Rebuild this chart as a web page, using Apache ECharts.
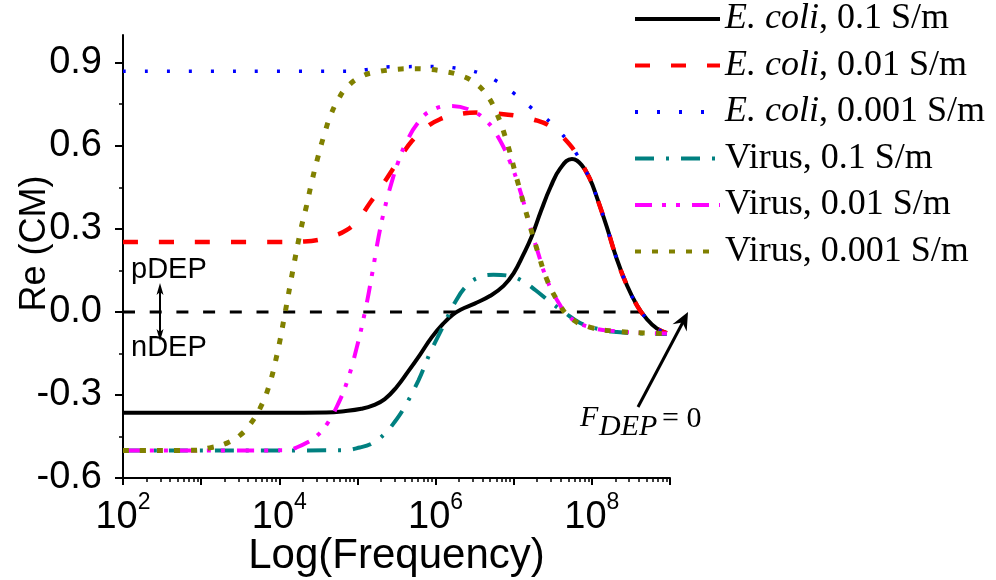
<!DOCTYPE html>
<html><head><meta charset="utf-8">
<script src="https://cdn.jsdelivr.net/npm/echarts@6/dist/echarts.min.js"></script>
<style>html,body{margin:0;padding:0;background:#fff}#c{width:996px;height:580px}</style>
</head><body><div id="c"></div><script>
// x values are log10(frequency / Hz)
const xLabelExponents = [2, 4, 6, 8];
const yTickValues = [-0.6, -0.3, 0.0, 0.3, 0.6, 0.9];
const yMinorTickValues = [-0.45, -0.15, 0.15, 0.45, 0.75];
const seriesNames = ['E. coli, 0.1 S/m', 'E. coli, 0.01 S/m', 'E. coli, 0.001 S/m',
  'Virus, 0.1 S/m', 'Virus, 0.01 S/m', 'Virus, 0.001 S/m'];

const ecoli01 = [[2,-0.364],[4.0,-0.364],[4.6,-0.363],[4.85,-0.358],[5.05,-0.35],[5.2,-0.338],[5.35,-0.315],[5.5,-0.272],[5.65,-0.215],[5.80,-0.155],[5.95,-0.092],[6.10,-0.042],[6.22,-0.01],[6.32,0.008],[6.5,0.03],[6.7,0.058],[6.87,0.094],[7.0,0.14],[7.12,0.205],[7.23,0.272],[7.35,0.365],[7.47,0.45],[7.6,0.52],[7.745,0.552],[7.87,0.53],[7.98,0.477],[8.06,0.417],[8.19,0.308],[8.32,0.19],[8.45,0.095],[8.58,0.022],[8.7,-0.025],[8.83,-0.06],[8.96,-0.077]];
const ecoli001 = [[2,0.252],[4.0,0.252],[4.3,0.254],[4.5,0.26],[4.7,0.275],[4.86,0.295],[5.0,0.33],[5.16,0.393],[5.3,0.45],[5.44,0.51],[5.57,0.568],[5.70,0.618],[5.85,0.66],[6.05,0.695],[6.3,0.714],[6.57,0.72],[6.8,0.716],[7.04,0.708],[7.25,0.695],[7.47,0.67],[7.65,0.625],[7.81,0.568],[7.92,0.51],[8.0,0.465],[8.06,0.417],[8.19,0.308],[8.32,0.19],[8.45,0.095],[8.58,0.022],[8.7,-0.025],[8.83,-0.06],[8.96,-0.077]];
const ecoli0001 = [[2,0.869],[4.9,0.869],[5.14,0.876],[5.42,0.885],[6.0,0.886],[6.27,0.88],[6.55,0.864],[6.78,0.834],[7.0,0.79],[7.23,0.736],[7.47,0.685],[7.66,0.628],[7.81,0.568],[7.92,0.51],[8.0,0.465],[8.06,0.417],[8.19,0.308],[8.32,0.19],[8.45,0.095],[8.58,0.022],[8.7,-0.025],[8.83,-0.06],[8.96,-0.077]];
const virus01 = [[2,-0.501],[4.8,-0.50],[5.03,-0.49],[5.2,-0.473],[5.35,-0.44],[5.47,-0.40],[5.6,-0.345],[5.78,-0.248],[5.93,-0.148],[6.10,-0.05],[6.25,0.035],[6.40,0.095],[6.55,0.124],[6.74,0.134],[6.95,0.13],[7.13,0.108],[7.28,0.078],[7.46,0.037],[7.64,0.0],[7.85,-0.04],[8.1,-0.063],[8.32,-0.073],[8.6,-0.078],[8.96,-0.08]];
const virus001 = [[2,-0.501],[4.1,-0.50],[4.22,-0.49],[4.35,-0.473],[4.48,-0.448],[4.61,-0.405],[4.74,-0.34],[4.87,-0.25],[4.99,-0.13],[5.10,0.005],[5.19,0.14],[5.27,0.27],[5.35,0.375],[5.43,0.46],[5.52,0.54],[5.63,0.615],[5.78,0.685],[5.95,0.728],[6.2,0.744],[6.45,0.728],[6.65,0.69],[6.8,0.632],[6.955,0.54],[7.08,0.44],[7.21,0.31],[7.31,0.215],[7.42,0.12],[7.55,0.045],[7.72,-0.02],[7.98,-0.056],[8.32,-0.07],[8.75,-0.077],[8.96,-0.078]];
const virus0001 = [[2,-0.501],[2.9,-0.50],[3.11,-0.491],[3.33,-0.474],[3.5,-0.445],[3.63,-0.405],[3.75,-0.35],[3.86,-0.275],[3.97,-0.155],[4.07,-0.01],[4.17,0.145],[4.27,0.29],[4.35,0.385],[4.42,0.475],[4.5,0.565],[4.58,0.645],[4.66,0.712],[4.75,0.765],[4.86,0.81],[5.05,0.85],[5.27,0.868],[5.5,0.876],[5.7,0.878],[5.91,0.876],[6.12,0.868],[6.31,0.855],[6.5,0.828],[6.65,0.785],[6.77,0.725],[6.9,0.625],[7.05,0.47],[7.2,0.318],[7.31,0.215],[7.42,0.12],[7.55,0.045],[7.72,-0.02],[7.98,-0.056],[8.32,-0.07],[8.75,-0.077],[8.96,-0.078]];
const zeroLine = [[2,0],[9.35,0]];

const seriesData = [ecoli01, ecoli001, ecoli0001, virus01, virus001, virus0001];
const seriesColors = ['#000000', '#ff0000', '#0000ff', '#008080', '#ff00ff', '#808000'];
const seriesDash = ['solid', [15, 21], [3, 19], [19, 12, 3, 12], [17, 10, 4, 10, 4, 12], [6, 11]];
const seriesWidth = [4, 4.5, 3.5, 4, 4, 5];

// minor tick positions on the log-frequency axis (2..9 x 10^n)
const xMinorTicks = [];
for (let n = 2; n < 9; n++) for (let k = 2; k <= 9; k++) xMinorTicks.push(n + Math.log10(k));

const SANS = 'Liberation Sans, Arial, sans-serif';
const SERIF = 'Liberation Serif, Times New Roman, serif';

const chart = echarts.init(document.getElementById('c'), null, {renderer: 'canvas'});
const series = seriesNames.map((name, i) => ({
  name, type: 'line', data: seriesData[i], showSymbol: false, symbol: 'none',
  smooth: 0.45, xAxisIndex: 0, yAxisIndex: 0,
  lineStyle: {color: seriesColors[i], width: seriesWidth[i], type: seriesDash[i]},
  itemStyle: {color: seriesColors[i]}, silent: true, z: 2 + i
}));
series.push({
  name: 'zero', type: 'line', data: zeroLine, showSymbol: false, symbol: 'none', clip: false,
  lineStyle: {color: '#000', width: 3, type: [12, 14.7]}, silent: true, z: 1
});

chart.setOption({
  animation: false,
  backgroundColor: '#fff',
  grid: {left: 123, right: 326, top: 35, bottom: 102, containLabel: false, outerBoundsMode: 'none'},
  xAxis: [{
    type: 'value', min: 2, max: 9, interval: 1, position: 'bottom',
    axisLine: {show: true, onZero: false, lineStyle: {color: '#000', width: 2}},
    axisTick: {show: true, inside: false, length: 7, lineStyle: {color: '#000', width: 2}},
    splitLine: {show: false},
    axisLabel: {
      margin: 13,
      formatter: v => xLabelExponents.indexOf(v) >= 0 ? '{b|10}{s|' + v + '}' : '',
      rich: {
        b: {fontSize: 38, fontFamily: SANS, color: '#000', lineHeight: 54},
        s: {fontSize: 23, fontFamily: SANS, color: '#000', verticalAlign: 'top', lineHeight: 23}
      }
    },
    name: 'Log(Frequency)', nameLocation: 'middle', nameGap: 57, nameMoveOverlap: false,
    nameTextStyle: {fontSize: 42, fontFamily: SANS, color: '#000'}
  }, {
    type: 'value', min: 2, max: 9, position: 'bottom',
    axisLine: {show: false, onZero: false},
    axisTick: {show: true, inside: false, length: 4, customValues: xMinorTicks, lineStyle: {color: '#000', width: 1.5}},
    axisLabel: {show: false}, splitLine: {show: false}
  }],
  yAxis: [{
    type: 'value', min: -0.6, max: 1.0, interval: 0.3, position: 'left',
    axisLine: {show: true, onZero: false, lineStyle: {color: '#000', width: 2}},
    axisTick: {show: true, inside: false, length: 8, customValues: yTickValues, lineStyle: {color: '#000', width: 2}},
    splitLine: {show: false},
    axisLabel: {customValues: yTickValues, margin: 21, fontSize: 38, fontFamily: SANS, color: '#000',
      formatter: v => v.toFixed(1)},
    name: 'Re (CM)', nameLocation: 'middle', nameGap: 70, nameRotate: 90, nameMoveOverlap: false,
    nameTextStyle: {fontSize: 36, fontFamily: SANS, color: '#000', padding: [0, 0, 0, 26]}
  }, {
    type: 'value', min: -0.6, max: 1.0, position: 'left',
    axisLine: {show: false, onZero: false},
    axisTick: {show: true, inside: false, length: 4, customValues: yMinorTickValues, lineStyle: {color: '#000', width: 1.5}},
    axisLabel: {show: false}, splitLine: {show: false}
  }],
  legend: {
    data: seriesNames, orient: 'vertical', left: 633, top: 1, padding: 0,
    itemWidth: 85, itemHeight: 14, itemGap: 10.5, selectedMode: false,
    itemStyle: {opacity: 0, borderWidth: 0},
    lineStyle: {width: 4},
    formatter: name => name.indexOf('E. coli') === 0 ? '{i|E. coli}{n|' + name.slice(7) + '}' : '{n|' + name + '}',
    textStyle: {
      fontSize: 36, fontFamily: SERIF, color: '#000', lineHeight: 36,
      rich: {
        i: {fontSize: 36, fontFamily: SERIF, fontStyle: 'italic', color: '#000', lineHeight: 36},
        n: {fontSize: 36, fontFamily: SERIF, color: '#000', lineHeight: 36}
      }
    }
  },
  series,
  graphic: [
    {type: 'text', left: 131, top: 255, style: {text: 'pDEP', font: '29px ' + SANS, fill: '#000'}},
    {type: 'text', left: 131, top: 333, style: {text: 'nDEP', font: '29px ' + SANS, fill: '#000'}},
    {type: 'line', shape: {x1: 160, y1: 291, x2: 160, y2: 333}, style: {stroke: '#000', lineWidth: 2}},
    {type: 'polygon', shape: {points: [[160,283],[156.5,295],[160,292],[163.5,295]]}, style: {fill: '#000'}},
    {type: 'polygon', shape: {points: [[160,341],[156.5,329],[160,332],[163.5,329]]}, style: {fill: '#000'}},
    {type: 'line', shape: {x1: 638, y1: 407, x2: 683, y2: 322}, style: {stroke: '#000', lineWidth: 3}},
    {type: 'polygon', shape: {points: [[688,312],[686.7,331.6],[682.4,322.6],[672.5,324.2]]}, style: {fill: '#000'}},
    {type: 'text', x: 580, y: 418, style: {text: 'F', font: 'italic 30px ' + SERIF, fill: '#000', verticalAlign: 'middle'}},
    {type: 'text', x: 599, y: 427, style: {text: 'DEP', font: 'italic 30px ' + SERIF, fill: '#000', verticalAlign: 'middle'}},
    {type: 'text', x: 662, y: 419, style: {text: '= 0', font: '30px ' + SERIF, fill: '#000', verticalAlign: 'middle'}}
  ]
});
</script></body></html>
